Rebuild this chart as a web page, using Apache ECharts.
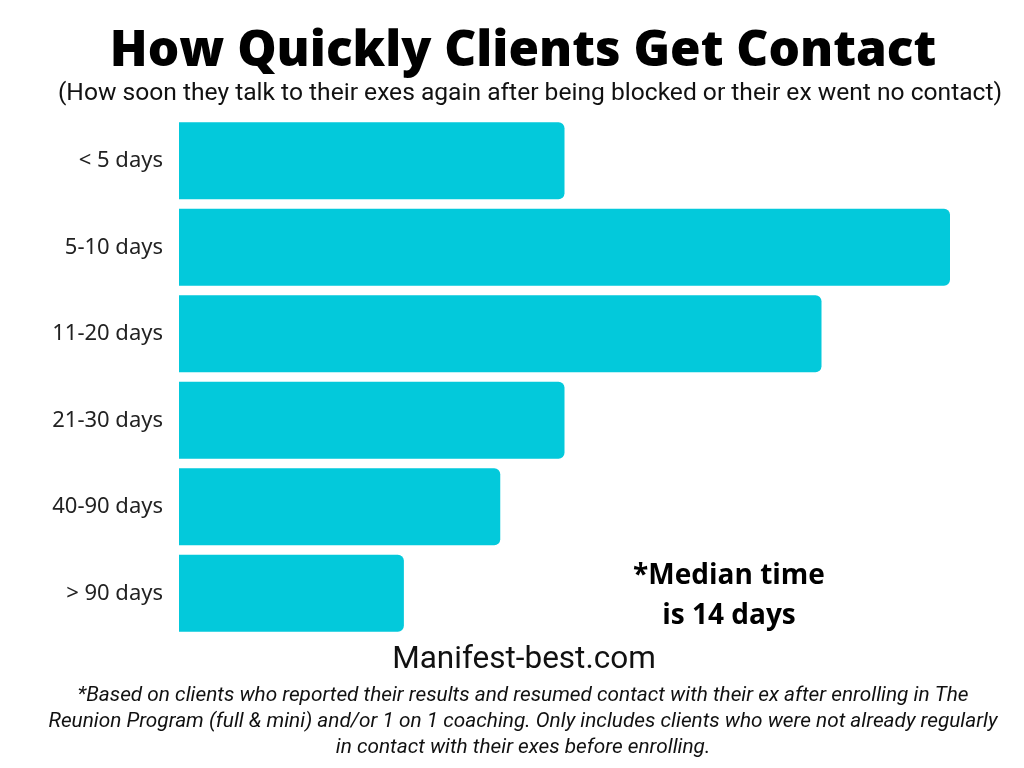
<!DOCTYPE html>
<html><head><meta charset="utf-8">
<script src="https://cdn.jsdelivr.net/npm/echarts@6/dist/echarts.min.js"></script>
<style>html,body{margin:0;padding:0;background:#fff}#c{width:1024px;height:768px}</style>
</head><body><div id="c"></div>
<script>
const categories = ["< 5 days", "5-10 days", "11-20 days", "21-30 days", "40-90 days", "> 90 days"];
const values = [6, 12, 10, 6, 5, 3.5];
const titleText = "How Quickly Clients Get Contact";
const subtitleText = "(How soon they talk to their exes again after being blocked or their ex went no contact)";
const medianText = "*Median time\nis 14 days";
const siteText = "Manifest-best.com";
const footnoteText = "*Based on clients who reported their results and resumed contact with their ex after enrolling in The\nReunion Program (full & mini) and/or 1 on 1 coaching. Only includes clients who were not already regularly\nin contact with their exes before enrolling.";

const chart = echarts.init(document.getElementById('c'), null, {renderer: 'canvas'});
chart.setOption({
  backgroundColor: '#ffffff',
  animation: false,
  title: [
    {text: titleText, left: 518, textAlign: 'center', top: 22,
     textStyle: {fontFamily: 'Open Sans', fontWeight: 800, fontSize: 49.5, color: '#000'}},
    {text: subtitleText, left: 525, textAlign: 'center', top: 76,
     textStyle: {fontFamily: 'Roboto', fontWeight: 'normal', fontSize: 24.6, color: '#111'}},
    {text: medianText, left: 724, textAlign: 'center', top: 551,
     textStyle: {fontFamily: 'Open Sans', fontWeight: 700, fontSize: 28, lineHeight: 40, color: '#000'}},
    {text: siteText, left: 519, textAlign: 'center', top: 639,
     textStyle: {fontFamily: 'Roboto', fontWeight: 'normal', fontSize: 31.5, color: '#111'}},
    {text: footnoteText, left: 518, textAlign: 'center', top: 678,
     textStyle: {fontFamily: 'Roboto', fontStyle: 'italic', fontWeight: 'normal', fontSize: 20.8, lineHeight: 26, color: '#111'}}
  ],
  grid: {left: 179, top: 117.5, width: 771, height: 519, containLabel: false},
  xAxis: {type: 'value', min: 0, max: 12, show: false},
  yAxis: {type: 'category', data: categories, inverse: true,
    axisLine: {show: false}, axisTick: {show: false}, splitLine: {show: false},
    axisLabel: {margin: 16, fontFamily: 'Noto Sans', fontSize: 22, color: '#222'}},
  series: [{type: 'bar', data: values, barCategoryGap: '11%',
    itemStyle: {color: '#03C9DB', borderRadius: [0, 6, 6, 0]}}]
});
</script></body></html>
